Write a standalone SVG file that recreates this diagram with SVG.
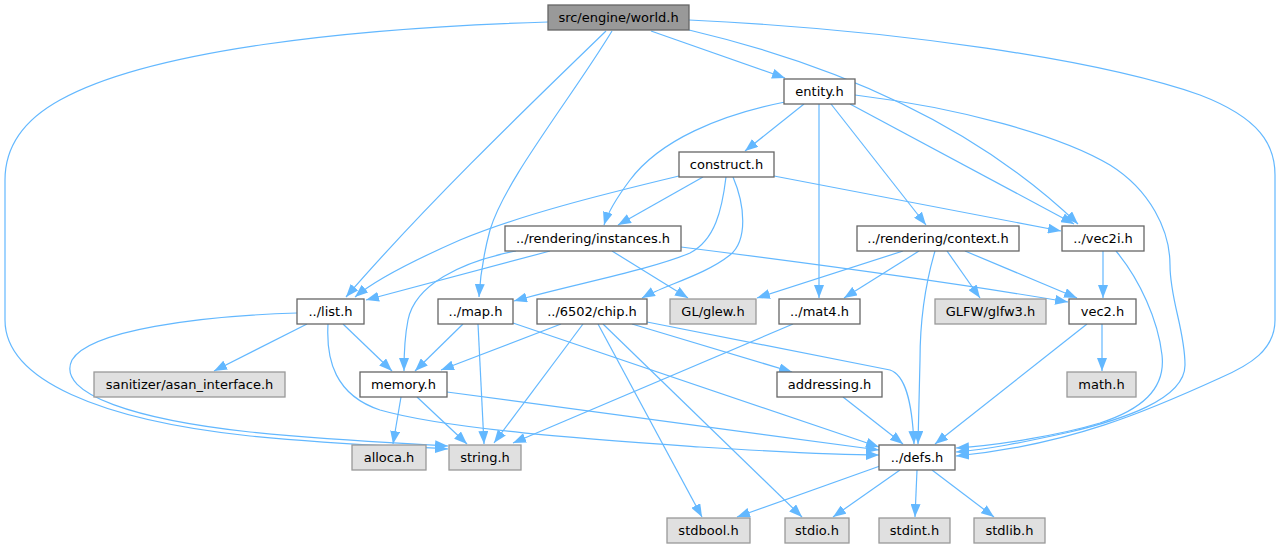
<svg xmlns="http://www.w3.org/2000/svg" width="1280" height="549" viewBox="0 0 1280 549">
<defs>
<marker id="ah" viewBox="0 0 13 10" refX="13" refY="5" markerWidth="13" markerHeight="10" markerUnits="userSpaceOnUse" orient="auto">
<path d="M0,0 L13,5 L0,10 z" fill="#63b8ff"/>
</marker>
<style>
.e{fill:none;stroke:#63b8ff;stroke-width:1.2;marker-end:url(#ah)}
.n rect{fill:#ffffff;stroke:#666666;stroke-width:1.3}
.x rect{fill:#e0e0e0;stroke:#999999;stroke-width:1.3}
.m rect{fill:#999999;stroke:#666666;stroke-width:1.3}
text{font-family:"DejaVu Sans","Liberation Sans",sans-serif;font-size:13px;fill:#000;text-anchor:middle}
</style>
</defs>
<rect width="1280" height="549" fill="#ffffff"/>
<g id="edges">
<path class="e" d="M651,31 L785,78"/>
<path class="e" d="M606,31 C540,95 430,200 346,297"/>
<path class="e" d="M612,31 C570,100 505,180 490,230 C482,260 480,280 479,297"/>
<path class="e" d="M689,30 C850,68 980,130 1078,224"/>
<path class="e" d="M689,20 C900,30 1100,60 1200,95 C1260,118 1275,145 1275,175 L1275,320 C1275,350 1250,365 1220,378 C1150,410 1070,445 956,456"/>
<path class="e" d="M548,22 C350,28 150,50 60,100 C20,122 5,150 5,180 L5,320 C5,380 100,420 250,436 C340,445 400,446 448,449"/>
<path class="e" d="M804,104 L745,151"/>
<path class="e" d="M785,102 C720,115 660,140 630,180 C615,200 608,212 604,225"/>
<path class="e" d="M819,104 L819,298"/>
<path class="e" d="M831,104 L926,225"/>
<path class="e" d="M850,104 L1074,224"/>
<path class="e" d="M855,95 C960,108 1060,135 1110,165 C1150,190 1170,230 1170,265 C1170,300 1185,330 1185,365 C1185,400 1120,420 1070,432 C1020,443 990,449 956,452"/>
<path class="e" d="M703,177 L618,225"/>
<path class="e" d="M679,176 C600,195 520,215 460,240 C410,262 375,280 355,297"/>
<path class="e" d="M726,177 C722,210 715,240 690,253 C650,270 570,285 514,301"/>
<path class="e" d="M733,177 C745,205 748,240 730,255 C705,275 665,285 642,298"/>
<path class="e" d="M774,176 L1061,231"/>
<path class="e" d="M550,251 L366,300"/>
<path class="e" d="M516,251 C460,262 415,285 408,320 C404,340 404,355 404,371"/>
<path class="e" d="M612,251 L688,298"/>
<path class="e" d="M681,247 C800,262 950,282 1068,302"/>
<path class="e" d="M903,251 L757,298"/>
<path class="e" d="M919,251 L844,298"/>
<path class="e" d="M947,251 L980,298"/>
<path class="e" d="M965,251 L1077,298"/>
<path class="e" d="M935,251 C925,285 920,320 920,360 L918,444"/>
<path class="e" d="M1103,251 L1103,298"/>
<path class="e" d="M1116,251 C1140,280 1158,320 1162,355 C1166,390 1140,410 1100,423 C1060,435 1000,445 956,448"/>
<path class="e" d="M1102,324 L1102,371"/>
<path class="e" d="M1087,324 L935,444"/>
<path class="e" d="M307,324 L214,371"/>
<path class="e" d="M343,324 L392,371"/>
<path class="e" d="M297,313 C200,316 90,330 72,360 C55,395 140,420 250,432 C340,441 400,443 448,446"/>
<path class="e" d="M328,324 C326,360 335,395 380,410 C450,430 600,440 700,447 C780,452 840,455 879,455"/>
<path class="e" d="M463,324 L415,371"/>
<path class="e" d="M478,324 L484,444"/>
<path class="e" d="M513,323 L879,447"/>
<path class="e" d="M561,324 L441,370"/>
<path class="e" d="M583,324 L494,443"/>
<path class="e" d="M598,324 L702,517"/>
<path class="e" d="M603,324 L802,517"/>
<path class="e" d="M632,324 L792,372"/>
<path class="e" d="M647,322 L890,370 C905,375 912,400 914,444"/>
<path class="e" d="M793,324 L513,443"/>
<path class="e" d="M401,397 L393,444"/>
<path class="e" d="M417,397 L467,444"/>
<path class="e" d="M447,392 L879,450"/>
<path class="e" d="M843,397 L903,444"/>
<path class="e" d="M880,466 L737,517"/>
<path class="e" d="M900,470 L833,517"/>
<path class="e" d="M917,470 L915,517"/>
<path class="e" d="M932,470 L994,517"/>
</g>
<g id="n_world" class="m"><rect x="548" y="5" width="141" height="25"/><text x="618.5" y="22">src/engine/world.h</text></g>
<g id="n_entity" class="n"><rect x="784" y="79" width="71" height="25"/><text x="819.5" y="96">entity.h</text></g>
<g id="n_construct" class="n"><rect x="679" y="152" width="95" height="25"/><text x="726.5" y="169">construct.h</text></g>
<g id="n_instances" class="n"><rect x="505" y="226" width="176" height="25"/><text x="593" y="243">../rendering/instances.h</text></g>
<g id="n_context" class="n"><rect x="857" y="226" width="162" height="25"/><text x="938" y="243">../rendering/context.h</text></g>
<g id="n_vec2i" class="n"><rect x="1062" y="226" width="82" height="25"/><text x="1103" y="243">../vec2i.h</text></g>
<g id="n_list" class="n"><rect x="297" y="299" width="67" height="25"/><text x="330.5" y="316">../list.h</text></g>
<g id="n_map" class="n"><rect x="438" y="299" width="75" height="25"/><text x="475.5" y="316">../map.h</text></g>
<g id="n_chip" class="n"><rect x="537" y="299" width="110" height="25"/><text x="592" y="316">../6502/chip.h</text></g>
<g id="n_glew" class="x"><rect x="670" y="299" width="86" height="25"/><text x="713" y="316">GL/glew.h</text></g>
<g id="n_mat4" class="n"><rect x="779" y="299" width="81" height="25"/><text x="819.5" y="316">../mat4.h</text></g>
<g id="n_glfw" class="x"><rect x="935" y="299" width="111" height="25"/><text x="990.5" y="316">GLFW/glfw3.h</text></g>
<g id="n_vec2" class="n"><rect x="1069" y="299" width="67" height="25"/><text x="1102.5" y="316">vec2.h</text></g>
<g id="n_asan" class="x"><rect x="94" y="372" width="191" height="25"/><text x="189.5" y="389">sanitizer/asan_interface.h</text></g>
<g id="n_memory" class="n"><rect x="360" y="372" width="87" height="25"/><text x="403.5" y="389">memory.h</text></g>
<g id="n_addressing" class="n"><rect x="777" y="372" width="105" height="25"/><text x="829.5" y="389">addressing.h</text></g>
<g id="n_math" class="x"><rect x="1067" y="372" width="69" height="25"/><text x="1101.5" y="389">math.h</text></g>
<g id="n_alloca" class="x"><rect x="352" y="445" width="74" height="25"/><text x="389" y="462">alloca.h</text></g>
<g id="n_string" class="x"><rect x="449" y="445" width="72" height="25"/><text x="485" y="462">string.h</text></g>
<g id="n_defs" class="n"><rect x="879" y="445" width="76" height="25"/><text x="917" y="462">../defs.h</text></g>
<g id="n_stdbool" class="x"><rect x="667" y="518" width="83" height="25"/><text x="708.5" y="535">stdbool.h</text></g>
<g id="n_stdio" class="x"><rect x="785" y="518" width="64" height="25"/><text x="817" y="535">stdio.h</text></g>
<g id="n_stdint" class="x"><rect x="879" y="518" width="71" height="25"/><text x="914.5" y="535">stdint.h</text></g>
<g id="n_stdlib" class="x"><rect x="974" y="518" width="71" height="25"/><text x="1009.5" y="535">stdlib.h</text></g>
</svg>
